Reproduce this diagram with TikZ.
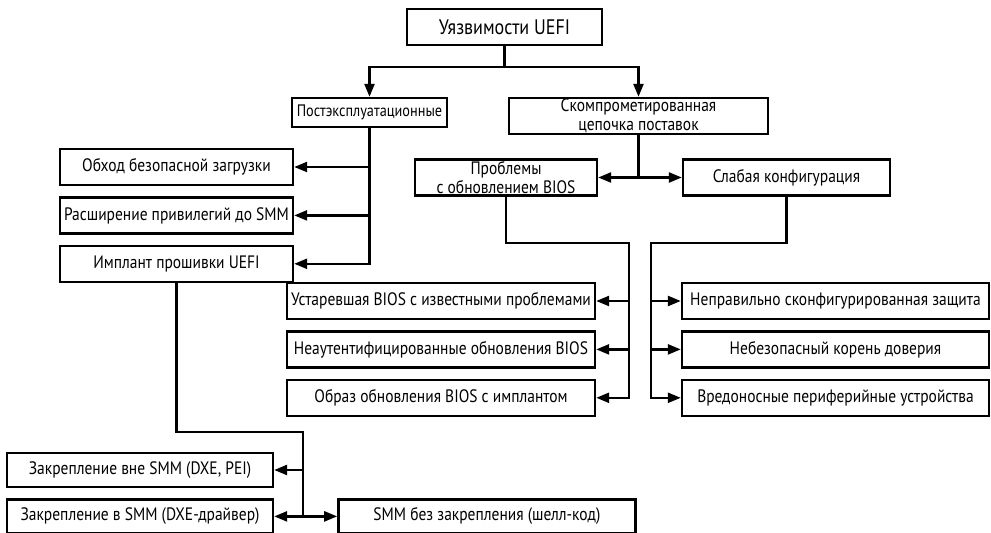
\documentclass[tikz,border=0pt]{standalone}
\usepackage{fontspec}
\setmainfont{PT Sans}[FakeStretch=0.86]
\usetikzlibrary{arrows.meta,positioning}

\begin{document}
\begin{tikzpicture}[
    x=0.5pt, y=-0.5pt,
    font=\fontsize{9}{9.3}\selectfont,
    line width=1.2pt,
    >={Triangle[length=6.5pt,width=5pt]},
    box/.style={draw, line width=1.2pt, inner sep=0pt, align=center, minimum height=18pt},
    lowbox/.style={box, minimum height=17pt}
]
\useasboundingbox (0,0) rectangle (991,533);

% top level
\node[box, minimum width=97.5pt, font=\fontsize{10.5}{11}\selectfont] (uefi) at (504.5,27) {Уязвимости UEFI};
\node[box, minimum width=77.5pt, minimum height=14.5pt, font=\fontsize{8.3}{9}\selectfont] (post) at (369.5,112.5) {Постэксплуатационные};
\node[box, minimum width=129.5pt] (supply) at (638.5,116) {Скомпрометированная\\цепочка поставок};
\node[box, minimum width=91pt] (bios) at (506,177.5) {Проблемы\\с обновлением BIOS};
\node[box, minimum width=103.5pt] (weak) at (786.5,177.5) {Слабая конфигурация};

% post-exploitation
\node[box, minimum width=116.5pt] (boot) at (176.5,167) {Обход безопасной загрузки};
\node[box, minimum width=116.5pt, below=5pt of boot] (smm) {Расширение привилегий до SMM};
\node[box, minimum width=116.5pt, below=5pt of smm] (implant) {Имплант прошивки UEFI};

% bios update problems
\node[box, minimum width=154pt] (old) at (441,301) {Устаревшая BIOS с известными проблемами};
\node[box, minimum width=154pt, below=5pt of old] (unauth) {Неаутентифицированные обновления BIOS};
\node[box, minimum width=154pt, below=5pt of unauth] (image) {Образ обновления BIOS с имплантом};

% weak configuration
\node[box, minimum width=153.5pt] (misconf) at (835.5,301) {Неправильно сконфигурированная защита};
\node[box, minimum width=153.5pt, below=5pt of misconf] (root) {Небезопасный корень доверия};
\node[box, minimum width=153.5pt, below=5pt of root] (periph) {Вредоносные периферийные устройства};

% implant
\node[lowbox, minimum width=133pt] (outsmm) at (140,470) {Закрепление вне SMM (DXE, PEI)};
\node[lowbox, minimum width=133pt, below=5pt of outsmm] (insmm) {Закрепление в SMM (DXE-драйвер)};
\node[lowbox, minimum width=148.5pt, right=31.5pt of insmm] (shell) {SMM без закрепления (шелл-код)};

\coordinate (top-j) at (504.5,67);
\coordinate (bios-j) at (629,243);
\coordinate (weak-j) at (651,243);
\coordinate (impl-j) at (303,432);

\draw[->] (uefi.south) -- (top-j) -| (post.north);
\draw[->] (top-j) -| (supply.north);

\draw[->] (post.south) |- (boot.east);
\draw[->] (post.south) |- (smm.east);
\draw[->] (post.south) |- (implant.east);

\draw[->] (supply.south) |- (bios.east);
\draw[->] (supply.south) |- (weak.west);

\draw[->] (bios.south) |- (bios-j) |- (old.east);
\draw[->] (bios-j) |- (unauth.east);
\draw[->] (bios-j) |- (image.east);

\draw[->] (weak.south) |- (weak-j) |- (misconf.west);
\draw[->] (weak-j) |- (root.west);
\draw[->] (weak-j) |- (periph.west);

\draw[->] (implant.south) |- (impl-j) |- (outsmm.east);
\draw[->] (impl-j) |- (insmm.east);
\draw[->] (impl-j) |- (shell.west);
\end{tikzpicture}
\end{document}
